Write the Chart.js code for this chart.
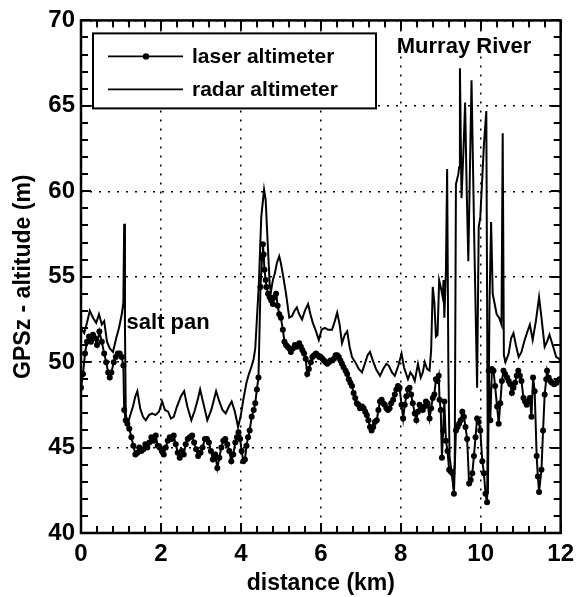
<!DOCTYPE html>
<html>
<head>
<meta charset="utf-8">
<script src="https://cdn.jsdelivr.net/npm/chart.js@4.4.1/dist/chart.umd.min.js"></script>
<style>
    html, body { margin: 0; padding: 0; background: #ffffff; }
    canvas { display: block; }
</style>
</head>
<body>
<canvas id="altChart" width="581" height="597"></canvas>
<script>
// distance along track (km) and GPSz - altitude (m)
const laserKm = [
    0.00, 0.05, 0.10, 0.15, 0.20, 0.25, 0.30, 0.35, 0.40, 0.46,
    0.52, 0.58, 0.63, 0.68, 0.72, 0.76, 0.82, 0.87, 0.92, 0.97,
    1.02, 1.06, 1.08, 1.12, 1.16, 1.21, 1.26, 1.31, 1.36, 1.41,
    1.46, 1.51, 1.56, 1.61, 1.66, 1.71, 1.76, 1.82, 1.87, 1.92,
    1.97, 2.02, 2.07, 2.12, 2.17, 2.22, 2.27, 2.32, 2.37, 2.42,
    2.47, 2.52, 2.57, 2.62, 2.67, 2.72, 2.78, 2.83, 2.88, 2.93,
    2.99, 3.04, 3.10, 3.15, 3.20, 3.25, 3.30, 3.36, 3.41, 3.46,
    3.51, 3.56, 3.61, 3.66, 3.71, 3.76, 3.81, 3.86, 3.90, 3.94,
    3.98, 4.02, 4.06, 4.10, 4.14, 4.18, 4.22, 4.27, 4.32, 4.36,
    4.40, 4.44, 4.49, 4.53, 4.55, 4.57, 4.59, 4.62, 4.64, 4.68,
    4.72, 4.76, 4.80, 4.84, 4.88, 4.92, 4.96, 5.00, 5.05, 5.09,
    5.13, 5.17, 5.21, 5.25, 5.30, 5.35, 5.40, 5.46, 5.50, 5.54,
    5.58, 5.62, 5.66, 5.70, 5.75, 5.79, 5.83, 5.88, 5.92, 5.96,
    6.00, 6.04, 6.08, 6.12, 6.16, 6.20, 6.24, 6.28, 6.33, 6.37,
    6.41, 6.45, 6.49, 6.53, 6.57, 6.62, 6.66, 6.70, 6.74, 6.78,
    6.82, 6.86, 6.90, 6.94, 6.98, 7.03, 7.07, 7.11, 7.15, 7.19,
    7.23, 7.27, 7.31, 7.35, 7.40, 7.44, 7.48, 7.52, 7.56, 7.60,
    7.64, 7.68, 7.72, 7.76, 7.81, 7.85, 7.89, 7.93, 7.97, 8.02,
    8.06, 8.10, 8.14, 8.18, 8.22, 8.26, 8.30, 8.35, 8.39, 8.43,
    8.47, 8.51, 8.55, 8.59, 8.63, 8.67, 8.72, 8.76, 8.80, 8.84,
    8.88, 8.92, 8.95, 8.97, 9.00, 9.03, 9.06, 9.09, 9.13, 9.17,
    9.21, 9.25, 9.29, 9.33, 9.38, 9.42, 9.46, 9.50, 9.54, 9.58,
    9.62, 9.66, 9.71, 9.75, 9.79, 9.83, 9.87, 9.91, 9.95, 9.99,
    10.04, 10.08, 10.12, 10.16, 10.20, 10.24, 10.28, 10.32, 10.36, 10.41,
    10.45, 10.49, 10.53, 10.57, 10.61, 10.66, 10.70, 10.74, 10.78, 10.82,
    10.86, 10.90, 10.94, 10.98, 11.02, 11.07, 11.11, 11.15, 11.19, 11.23,
    11.27, 11.31, 11.35, 11.40, 11.43, 11.46, 11.52, 11.56, 11.60, 11.64,
    11.66, 11.70, 11.74, 11.78, 11.84, 11.90, 11.97, 12.00
];
const laserAlt = [
    48.5, 49.3, 50.5, 51.2, 51.5, 51.2, 51.6, 51.4, 51.0, 51.8,
    51.2, 50.5, 50.0, 49.4, 49.1, 49.4, 50.0, 50.3, 50.5, 50.5,
    50.3, 49.8, 47.2, 46.6, 46.4, 46.1, 45.6, 45.1, 44.6, 44.7,
    45.0, 44.8, 44.9, 45.2, 45.0, 45.3, 45.6, 45.4, 45.7, 45.1,
    45.0, 44.8, 44.6, 45.0, 45.4, 45.6, 45.5, 45.7, 45.2, 44.7,
    44.4, 44.8, 44.6, 45.2, 45.5, 45.6, 45.7, 45.3, 44.9, 44.5,
    44.7, 45.0, 45.5, 45.5, 45.3, 44.8, 44.3, 44.6, 43.8, 44.4,
    45.0, 45.4, 45.5, 45.2, 44.8, 44.2, 44.6, 45.3, 45.6, 45.9,
    45.5, 44.8, 44.2, 44.3, 45.1, 45.6, 46.0, 46.8, 47.2, 47.6,
    48.4, 49.1, 54.4, 56.1, 56.9, 56.3, 55.4, 54.8, 54.4, 54.0,
    53.8, 53.6, 53.4, 53.8, 54.0, 53.3, 52.8, 52.6, 51.9, 51.2,
    51.0, 50.9, 50.8, 50.6, 50.8, 51.0, 50.9, 51.1, 50.9, 50.7,
    50.5, 50.2, 49.3, 49.6, 50.0, 50.3, 50.4, 50.5, 50.4, 50.3,
    50.3, 50.2, 50.1, 50.0, 49.9, 50.0, 50.1, 50.1, 50.2, 50.4,
    50.4, 50.3, 50.1, 49.9, 49.7, 49.5, 49.3, 49.0, 48.8, 48.6,
    48.2, 47.9, 47.6, 47.5, 47.3, 47.4, 47.3, 47.1, 46.9, 46.6,
    46.2, 46.0, 46.2, 46.5, 46.6, 47.2, 47.7, 47.8, 47.6, 47.5,
    47.3, 47.2, 47.3, 47.6, 47.8, 48.1, 48.4, 48.6, 48.5, 47.5,
    46.7, 47.5, 48.0, 48.4, 48.5, 48.1, 47.6, 47.0, 46.6, 47.1,
    47.5, 47.3, 47.2, 47.4, 47.7, 47.6, 46.7, 47.3, 47.9, 48.1,
    49.0, 48.9, 49.2, 47.8, 47.2, 44.4, 46.0, 47.7, 45.4, 44.8,
    43.7, 43.6, 43.5, 42.3, 46.0, 46.2, 46.4, 46.6, 47.1, 46.8,
    46.2, 45.5, 42.9, 43.1, 43.5, 44.5, 45.6, 46.7, 46.5, 46.0,
    44.2, 43.5, 42.3, 41.8, 49.5, 46.6, 49.6, 49.5, 48.6, 47.4,
    46.4, 47.6, 48.9, 49.5, 49.3, 49.1, 48.9, 48.7, 48.2, 48.5,
    48.8, 49.2, 49.5, 49.2, 48.9, 47.9, 47.7, 47.5, 47.7, 47.9,
    46.8, 49.1, 48.3, 44.5, 43.3, 42.4, 43.7, 46.0, 48.1, 49.0,
    49.5, 49.1, 48.9, 48.8, 48.7, 48.8, 49.0, 49.0
];

const radarKm = [
    0.00, 0.08, 0.15, 0.22, 0.30, 0.38, 0.45, 0.52, 0.58, 0.65,
    0.72, 0.80, 0.88, 0.95, 1.02, 1.06, 1.08, 1.10, 1.12, 1.16,
    1.22, 1.30, 1.36, 1.41, 1.48, 1.55, 1.62, 1.70, 1.78, 1.86,
    1.95, 2.03, 2.10, 2.18, 2.25, 2.32, 2.40, 2.50, 2.58, 2.66,
    2.76, 2.85, 2.93, 2.98, 3.06, 3.16, 3.26, 3.38, 3.46, 3.54,
    3.62, 3.70, 3.77, 3.85, 3.93, 4.00, 4.06, 4.14, 4.20, 4.26,
    4.32, 4.36, 4.40, 4.45, 4.51, 4.58, 4.62, 4.66, 4.72, 4.75,
    4.80, 4.85, 4.90, 4.96, 5.00, 5.06, 5.13, 5.21, 5.28, 5.34,
    5.40, 5.46, 5.53, 5.60, 5.68, 5.74, 5.80, 5.88, 5.95, 6.02,
    6.10, 6.18, 6.28, 6.35, 6.41, 6.47, 6.53, 6.60, 6.66, 6.72,
    6.78, 6.86, 6.95, 7.03, 7.10, 7.17, 7.23, 7.30, 7.38, 7.48,
    7.56, 7.64, 7.70, 7.78, 7.85, 7.94, 8.02, 8.08, 8.18, 8.24,
    8.30, 8.35, 8.43, 8.50, 8.55, 8.60, 8.66, 8.72, 8.76, 8.80,
    8.84, 8.88, 8.92, 8.96, 9.00, 9.05, 9.07, 9.09, 9.13, 9.16,
    9.19, 9.22, 9.30, 9.35, 9.38, 9.44, 9.46, 9.48, 9.52, 9.57,
    9.61, 9.65, 9.69, 9.77, 9.84, 9.91, 9.95, 9.99, 10.08, 10.14,
    10.18, 10.22, 10.26, 10.30, 10.35, 10.40, 10.46, 10.52, 10.55, 10.58,
    10.62, 10.70, 10.76, 10.82, 10.88, 10.95, 11.02, 11.10, 11.17, 11.23,
    11.30, 11.38, 11.46, 11.52, 11.60, 11.66, 11.72, 11.80, 11.89, 11.96,
    12.00
];
const radarAlt = [
    52.0, 51.7, 52.3, 53.0, 52.6, 52.3, 52.8, 52.2, 52.4, 51.2,
    50.8, 50.6, 51.4, 52.0, 52.8, 53.5, 58.1, 52.0, 47.0, 46.3,
    46.8, 47.4, 48.0, 48.3, 47.3, 46.8, 46.6, 46.9, 47.0, 46.9,
    47.1, 47.7, 47.2, 47.1, 46.7, 46.8, 47.4, 48.0, 48.3, 47.4,
    46.6, 47.2, 47.9, 48.4, 47.6, 46.6, 47.2, 48.3, 47.7, 47.2,
    47.0, 47.4, 47.7, 47.1, 46.2, 46.9, 47.8, 48.8, 49.3, 49.7,
    50.2, 50.8, 52.5, 54.6, 58.5, 60.1, 59.5, 57.5, 54.6, 54.1,
    54.8, 55.2, 55.8, 56.2, 55.8, 55.0, 54.0, 52.6, 52.7, 53.0,
    53.2, 52.8, 52.5, 53.0, 53.4, 52.8, 52.3, 51.8, 51.3, 51.9,
    52.0, 51.9, 51.9, 52.4, 52.9, 52.2, 51.1, 51.6, 51.8, 50.9,
    50.3, 50.0, 49.6, 49.4, 49.9, 50.4, 50.6, 50.1, 49.6, 49.2,
    49.6, 49.9, 49.8, 49.4, 49.2, 49.8, 50.5, 49.7, 49.0, 49.4,
    49.2, 48.9, 49.9, 49.1, 49.4, 50.0, 49.6, 49.5, 50.7, 54.4,
    53.5, 51.5, 51.6, 54.8, 54.4, 53.8, 54.8, 52.6, 55.4, 61.3,
    50.0, 44.5, 43.0, 44.0, 60.4, 61.0, 61.4, 67.2, 59.6, 62.5,
    65.2, 60.0, 55.9, 66.5, 57.0, 48.5, 57.9, 58.5, 62.7, 64.7,
    42.3, 53.4, 58.2, 54.0, 53.4, 52.8, 52.6, 52.2, 63.4, 50.4,
    50.0, 50.5, 51.4, 51.7, 51.0, 50.3, 50.6, 51.3, 51.8, 52.2,
    51.3, 52.4, 53.8, 52.6, 50.9, 51.2, 51.6, 51.0, 50.3, 50.2,
    50.0
];

const seriesNames = ["laser altimeter", "radar altimeter"];
const xTickValues = [0, 2, 4, 6, 8, 10, 12];
const yTickValues = [40, 45, 50, 55, 60, 65, 70];
const noteTexts = ["salt pan", "Murray River"];

const FONT = "'Liberation Sans', Arial, sans-serif";

function toPoints(xs, ys) {
    return xs.map((x, i) => ({ x: x, y: ys[i] }));
}

// frame with inward ticks on all four sides, boxed legend and the two notes
const frameAndLabels = {
    id: "frameAndLabels",
    afterDraw(chart) {
        const ctx = chart.ctx;
        const area = chart.chartArea;
        const sx = chart.scales.x;
        const sy = chart.scales.y;

        ctx.save();
        ctx.fillStyle = "#000000";
        // minor ticks every 0.4 km and 1 m, longer at the labelled values
        for (let i = 0; i <= 30; i++) {
            const px = Math.round(sx.getPixelForValue(i * 0.4));
            const len = i % 5 === 0 ? 10 : 7;
            ctx.fillRect(px - 1, area.bottom - len, 2, len);
            ctx.fillRect(px - 1, area.top, 2, len);
        }
        for (let v = 40; v <= 70; v++) {
            const py = Math.round(sy.getPixelForValue(v));
            const len = v % 5 === 0 ? 10 : 7;
            ctx.fillRect(area.left, py - 1, len, 2);
            ctx.fillRect(area.right - len, py - 1, len, 2);
        }

        ctx.strokeStyle = "#000000";
        ctx.lineWidth = 2.5;
        ctx.strokeRect(area.left, area.top, area.right - area.left, area.bottom - area.top);

        // legend
        const bx = area.left + 12;
        const by = area.top + 13;
        ctx.fillStyle = "#ffffff";
        ctx.fillRect(bx, by, 283, 75);
        ctx.lineWidth = 2;
        ctx.strokeRect(bx, by, 283, 75);

        const rows = [by + 23, by + 56];
        ctx.lineWidth = 1.8;
        ctx.font = "bold 21px " + FONT;
        ctx.textBaseline = "middle";
        ctx.textAlign = "left";
        for (let i = 0; i < rows.length; i++) {
            ctx.beginPath();
            ctx.moveTo(bx + 15, rows[i]);
            ctx.lineTo(bx + 90, rows[i]);
            ctx.stroke();
            ctx.fillStyle = "#000000";
            if (i === 0) {
                ctx.beginPath();
                ctx.arc(bx + 53, rows[i], 3.2, 0, Math.PI * 2);
                ctx.fill();
            }
            ctx.fillText(chart.data.datasets[i].label, bx + 99, rows[i] + 1);
        }

        // notes
        ctx.font = "bold 22px " + FONT;
        ctx.fillText(noteTexts[0], sx.getPixelForValue(1.14), sy.getPixelForValue(52.3));
        ctx.fillText(noteTexts[1], sx.getPixelForValue(7.9), sy.getPixelForValue(68.45));
        ctx.restore();
    }
};

new Chart(document.getElementById("altChart"), {
    type: "line",
    data: {
        datasets: [
            {
                label: seriesNames[0],
                data: toPoints(laserKm, laserAlt),
                borderColor: "#000000",
                borderWidth: 2,
                pointRadius: 3,
                pointBackgroundColor: "#000000",
                pointBorderWidth: 0,
                tension: 0
            },
            {
                label: seriesNames[1],
                data: toPoints(radarKm, radarAlt),
                borderColor: "#000000",
                borderWidth: 2,
                pointRadius: 0,
                tension: 0
            }
        ]
    },
    options: {
        responsive: false,
        animation: false,
        devicePixelRatio: 1,
        layout: {
            padding: { top: 19, right: 15, left: 0, bottom: 0 }
        },
        plugins: {
            legend: { display: false },
            tooltip: { enabled: false }
        },
        scales: {
            x: {
                type: "linear",
                min: 0,
                max: 12,
                afterBuildTicks: function (scale) {
                    scale.ticks = xTickValues.map(v => ({ value: v }));
                },
                afterFit: function (scale) {
                    scale.height = 64;
                },
                grid: {
                    color: "#000000",
                    lineWidth: 1.5,
                    drawTicks: false
                },
                border: { display: false, dash: [2, 7] },
                ticks: {
                    color: "#000000",
                    padding: 7,
                    maxRotation: 0,
                    font: { family: FONT, size: 24, weight: "bold" }
                },
                title: {
                    display: true,
                    text: "distance (km)",
                    color: "#000000",
                    padding: { top: 0, bottom: 0 },
                    font: { family: FONT, size: 23, weight: "bold" }
                }
            },
            y: {
                min: 40,
                max: 70,
                afterBuildTicks: function (scale) {
                    scale.ticks = yTickValues.map(v => ({ value: v }));
                },
                afterFit: function (scale) {
                    scale.width = 81;
                },
                grid: {
                    color: "#000000",
                    lineWidth: 1.5,
                    drawTicks: false
                },
                border: { display: false, dash: [2, 7] },
                ticks: {
                    color: "#000000",
                    padding: 6,
                    font: { family: FONT, size: 24, weight: "bold" }
                },
                title: {
                    display: true,
                    text: "GPSz - altitude (m)",
                    color: "#000000",
                    padding: { top: 10, bottom: 0 },
                    font: { family: FONT, size: 23, weight: "bold" }
                }
            }
        }
    },
    plugins: [frameAndLabels]
});
</script>
</body>
</html>
